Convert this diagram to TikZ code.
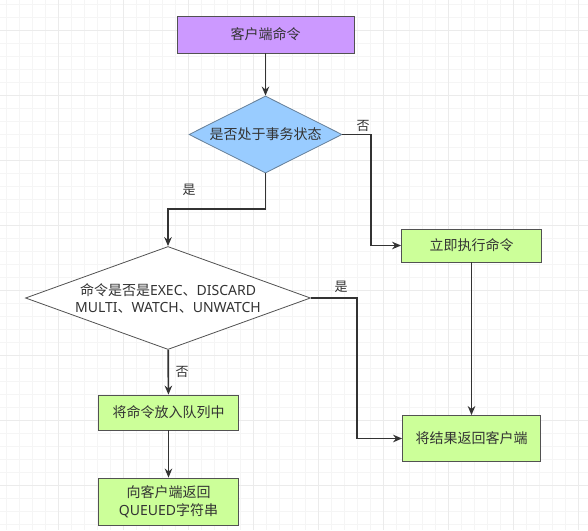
\documentclass[tikz,border=0pt]{standalone}
\usepackage{fontspec}
\setmainfont{Noto Sans CJK SC}
\newfontfamily\latinfont{Noto Sans}
\usepackage{xcolor}
\usepackage{tikz}
\usetikzlibrary{shapes,arrows.meta,positioning}
\definecolor{cmdpurple}{HTML}{CC99FF}
\definecolor{askblue}{HTML}{99CCFF}
\definecolor{stepgreen}{HTML}{CCFF99}
\definecolor{inkgray}{HTML}{333333}
\tikzset{
  box/.style={draw=inkgray!85, line width=0.8pt, rectangle, inner sep=0pt, text=inkgray, font=\fontsize{14}{18}\selectfont, align=center},
  ask/.style={draw=inkgray!85, line width=0.8pt, diamond, inner sep=0pt},
  flow/.style={-{Stealth[length=9pt,width=7.5pt]}, draw=inkgray, line width=1.7pt},
  tag/.style={text=inkgray, font=\fontsize{13}{15}\selectfont},
  gridminor/.style={draw=black!4, line width=0.5pt},
  gridmajor/.style={draw=black!8, line width=0.8pt}
}

\begin{document}
\begin{tikzpicture}[x=1pt,y=-1pt]
        \useasboundingbox (0,0) rectangle (588,530);
        \fill[white] (0,0) rectangle (588,530);
        \foreach \gx in {6,19,...,588} \draw[gridminor] (\gx,0) -- (\gx,530);
        \foreach \gy in {4,17,...,530} \draw[gridminor] (0,\gy) -- (588,\gy);
        \foreach \gx in {58,123,...,588} \draw[gridmajor] (\gx,0) -- (\gx,530);
        \foreach \gy in {30,95,...,530} \draw[gridmajor] (0,\gy) -- (588,\gy);

        \node[box, fill=cmdpurple, minimum width=177pt, minimum height=37pt] (cmd) at (265.5,34.5) {客户端命令};
        \node[ask, fill=askblue, draw=askblue!50!inkgray, minimum width=153pt, minimum height=77pt,
              label={[text=inkgray, font=\fontsize{14}{18}\selectfont]center:是否处于事务状态}] (intx) at (265.5,134.5) {};
        \node[box, fill=stepgreen, minimum width=140pt, minimum height=33pt] (exec) at (471.5,245.5) {立即执行命令};
        \node[ask, fill=white, minimum width=285pt, minimum height=103pt,
              label={[text=inkgray, font=\fontsize{14}{17}\selectfont, align=center]center:{命令是否是{\latinfont EXEC}、{\latinfont DISCARD}\\{\latinfont MULTI}、{\latinfont WATCH}、{\latinfont UNWATCH}}}] (special) at (168,298) {};
        \node[box, fill=stepgreen, minimum width=140pt, minimum height=35pt] (enqueue) at (168.5,412.5) {将命令放入队列中};
        \node[box, fill=stepgreen, minimum width=140pt, minimum height=47pt] (queued) at (168.5,501.5) {向客户端返回\\{\latinfont QUEUED}字符串};
        \node[box, fill=stepgreen, minimum width=138pt, minimum height=46pt] (reply) at (471.5,438.5) {将结果返回客户端};

        \coordinate (nobend) at (371,134.5);
        \coordinate (yesbend) at (168,209);
        \coordinate (specbend) at (357,298);

        \draw[flow] (cmd) -- (intx);
        \draw[flow] (intx.east) -- (nobend) |- (exec);
        \draw[flow] (intx) |- (yesbend) -- (special);
        \draw[flow] (special.east) -- (specbend) |- (reply);
        \draw[flow] (special) -- (enqueue);
        \draw[flow] (enqueue) -- (queued);
        \draw[flow] (exec) -- (reply);

        \node[tag] (notx) at (363,126) {否};
        \node[tag] (istx) at (189,190) {是};
        \node[tag] (isspec) at (341,287) {是};
        \node[tag] (notspec) at (182,372) {否};
    \end{tikzpicture}
\end{document}
